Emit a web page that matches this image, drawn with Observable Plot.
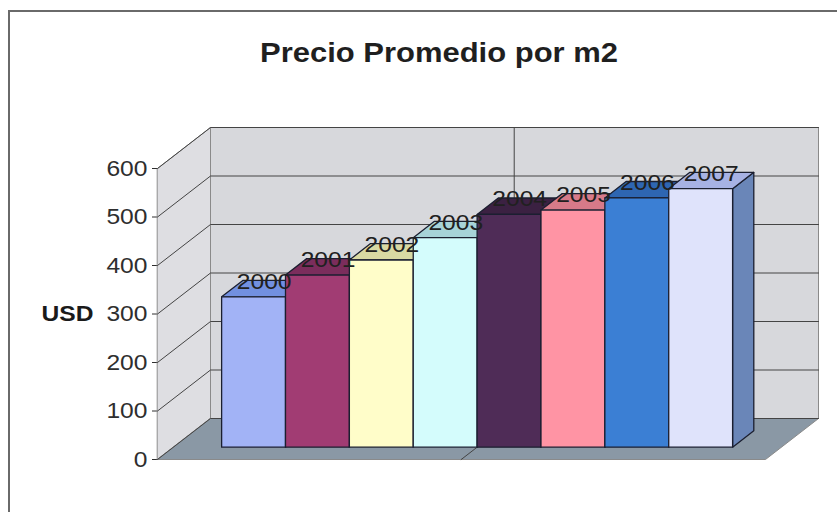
<!DOCTYPE html>
<html>
<head>
<meta charset="utf-8">
<script src="https://cdn.jsdelivr.net/npm/d3@7"></script>
<script src="https://cdn.jsdelivr.net/npm/@observablehq/plot@0.6"></script>
<style>
  html, body { margin: 0; padding: 0; background: #fff; }
  #wrap { position: relative; width: 837px; height: 512px; overflow: hidden; background: #fff; }
  #chart { position: absolute; left: 0; top: 0; }
  #frame { position: absolute; left: 8px; top: 10px; width: 900px; height: 600px;
           border: 2px solid #6a6a6a; box-sizing: border-box; pointer-events: none; }
  #title { position: absolute; left: 239px; width: 400px; top: 39px; text-align: center;
           font: bold 28px/28px "Liberation Sans", Arial, sans-serif; color: #1f1f1f;
           transform: scaleX(1.106); transform-origin: 50% 50%; white-space: nowrap; }
</style>
</head>
<body>
<div id="wrap">
  <div id="chart"></div>
  <div id="title"></div>
  <div id="frame"></div>
</div>
<script>
// ---- data ----
const titleText = "Precio Promedio por m2";
const yLabel = "USD";
const years = ["2000", "2001", "2002", "2003", "2004", "2005", "2006", "2007"];
const prices = [310, 355, 386, 432, 480, 489, 514, 533];
const yTicks = [0, 100, 200, 300, 400, 500, 600];
const xGridAt = [4];

// ---- styles ----
const frontColors = ["#a2b3f6", "#a13c73", "#fffdc9", "#d4fcfc", "#4f2c57", "#ff94a4", "#3b7fd4", "#dfe3fb"];
const topColors   = ["#7290e0", "#7b2d5c", "#d9d9a3", "#a7d3d8", "#3b2142", "#d77a89", "#2e66b2", "#a7b2e4"];
const sideColors  = ["#8096d8", "#82305e", "#d0d09c", "#a3c8cc", "#3a2040", "#cc6f80", "#2b5c9f", "#6a86b8"];

document.getElementById("title").textContent = titleText;

const W = 837, H = 512;
const M = {top: 168, right: 72, bottom: 53, left: 157};
const X0 = -0.755, X1 = years.length + 0.764, YMAX = d3.max(yTicks);
const DEPTH = {dx: 53, dy: 41};               // pixel offset of the back wall
const kx = DEPTH.dx * (X1 - X0) / (W - M.left - M.right);
const ky = DEPTH.dy * YMAX / (H - M.top - M.bottom);
const Z1 = 0.3, Z2 = 0.7;                      // bar depth range (0 front, 1 back)
const P = (x, v, z) => ({x: x + z * kx, y: v + z * ky});
const poly = (id, corners, fill) => corners.map(c => ({id, fill, ...P(...c)}));

const walls = [
  ...poly("back",  [[X0, 0, 1], [X1, 0, 1], [X1, YMAX, 1], [X0, YMAX, 1]], "#d7d8dc"),
  ...poly("side",  [[X0, 0, 0], [X0, 0, 1], [X0, YMAX, 1], [X0, YMAX, 0]], "#dedee2"),
  ...poly("floor", [[X0, 0, 0], [X1, 0, 0], [X1, 0, 1], [X0, 0, 1]], "#8a98a5")
];

const grid = [];
yTicks.forEach(v => grid.push(...poly("g" + v, [[X0, v, 0], [X0, v, 1], [X1, v, 1]], null)));
xGridAt.forEach(x => grid.push(...poly("c" + x, [[x, 0, 0], [x, 0, 1], [x, YMAX, 1]], null)));

const faces = [];
prices.forEach((v, i) => {
  faces.push(...poly("s" + i, [[i + 1, 0, Z1], [i + 1, 0, Z2], [i + 1, v, Z2], [i + 1, v, Z1]], sideColors[i]));
  faces.push(...poly("t" + i, [[i, v, Z1], [i + 1, v, Z1], [i + 1, v, Z2], [i, v, Z2]], topColors[i]));
  faces.push(...poly("f" + i, [[i, 0, Z1], [i + 1, 0, Z1], [i + 1, v, Z1], [i, v, Z1]], frontColors[i]));
});

const chart = Plot.plot({
  width: W, height: H,
  marginTop: M.top, marginRight: M.right, marginBottom: M.bottom, marginLeft: M.left,
  x: {domain: [X0, X1], axis: null},
  y: {domain: [0, YMAX], ticks: yTicks, tickSize: 5, tickPadding: 5, tickFormat: d3.format("d"), label: null},
  color: {type: "identity"},
  style: {background: "transparent", fontFamily: "'Liberation Sans', Arial, sans-serif",
          fontSize: "22px", color: "#2e2e2e", overflow: "visible"},
  marks: [
    Plot.line(walls, {x: "x", y: "y", z: "id", fill: "fill", stroke: "#8a8a8a", strokeWidth: 1, curve: "linear-closed"}),
    Plot.line(grid, {x: "x", y: "y", z: "id", stroke: "#444", strokeWidth: 1}),
    Plot.line(faces, {x: "x", y: "y", z: "id", fill: "fill", stroke: "#1b1f30", strokeWidth: 1.3,
                      strokeLinejoin: "round", curve: "linear-closed"}),
    Plot.text(years, {x: (d, i) => i + 0.5 + 0.5 * kx, y: (d, i) => prices[i] + 0.5 * ky,
                      text: d => d, dy: -7, fontSize: 22, fill: "#202020"}),
    Plot.text([yLabel], {frameAnchor: "left", y: [YMAX / 2], dx: -64, textAnchor: "end",
                         fontWeight: "bold", fontSize: 22, fill: "#1a1a1a"})
  ]
});

// horizontal stretch of the scanned lettering, about each text's own anchor
chart.querySelectorAll("text").forEach(t => {
  const xa = t.getAttribute("x");
  const x = xa && /^-?[\d.]+$/.test(xa) ? +xa : 0;
  const tr = t.getAttribute("transform") || "";
  t.setAttribute("transform", `${tr} translate(${x},0) scale(1.12,1) translate(${-x},0)`);
});

document.getElementById("chart").appendChild(chart);
</script>
</body>
</html>
